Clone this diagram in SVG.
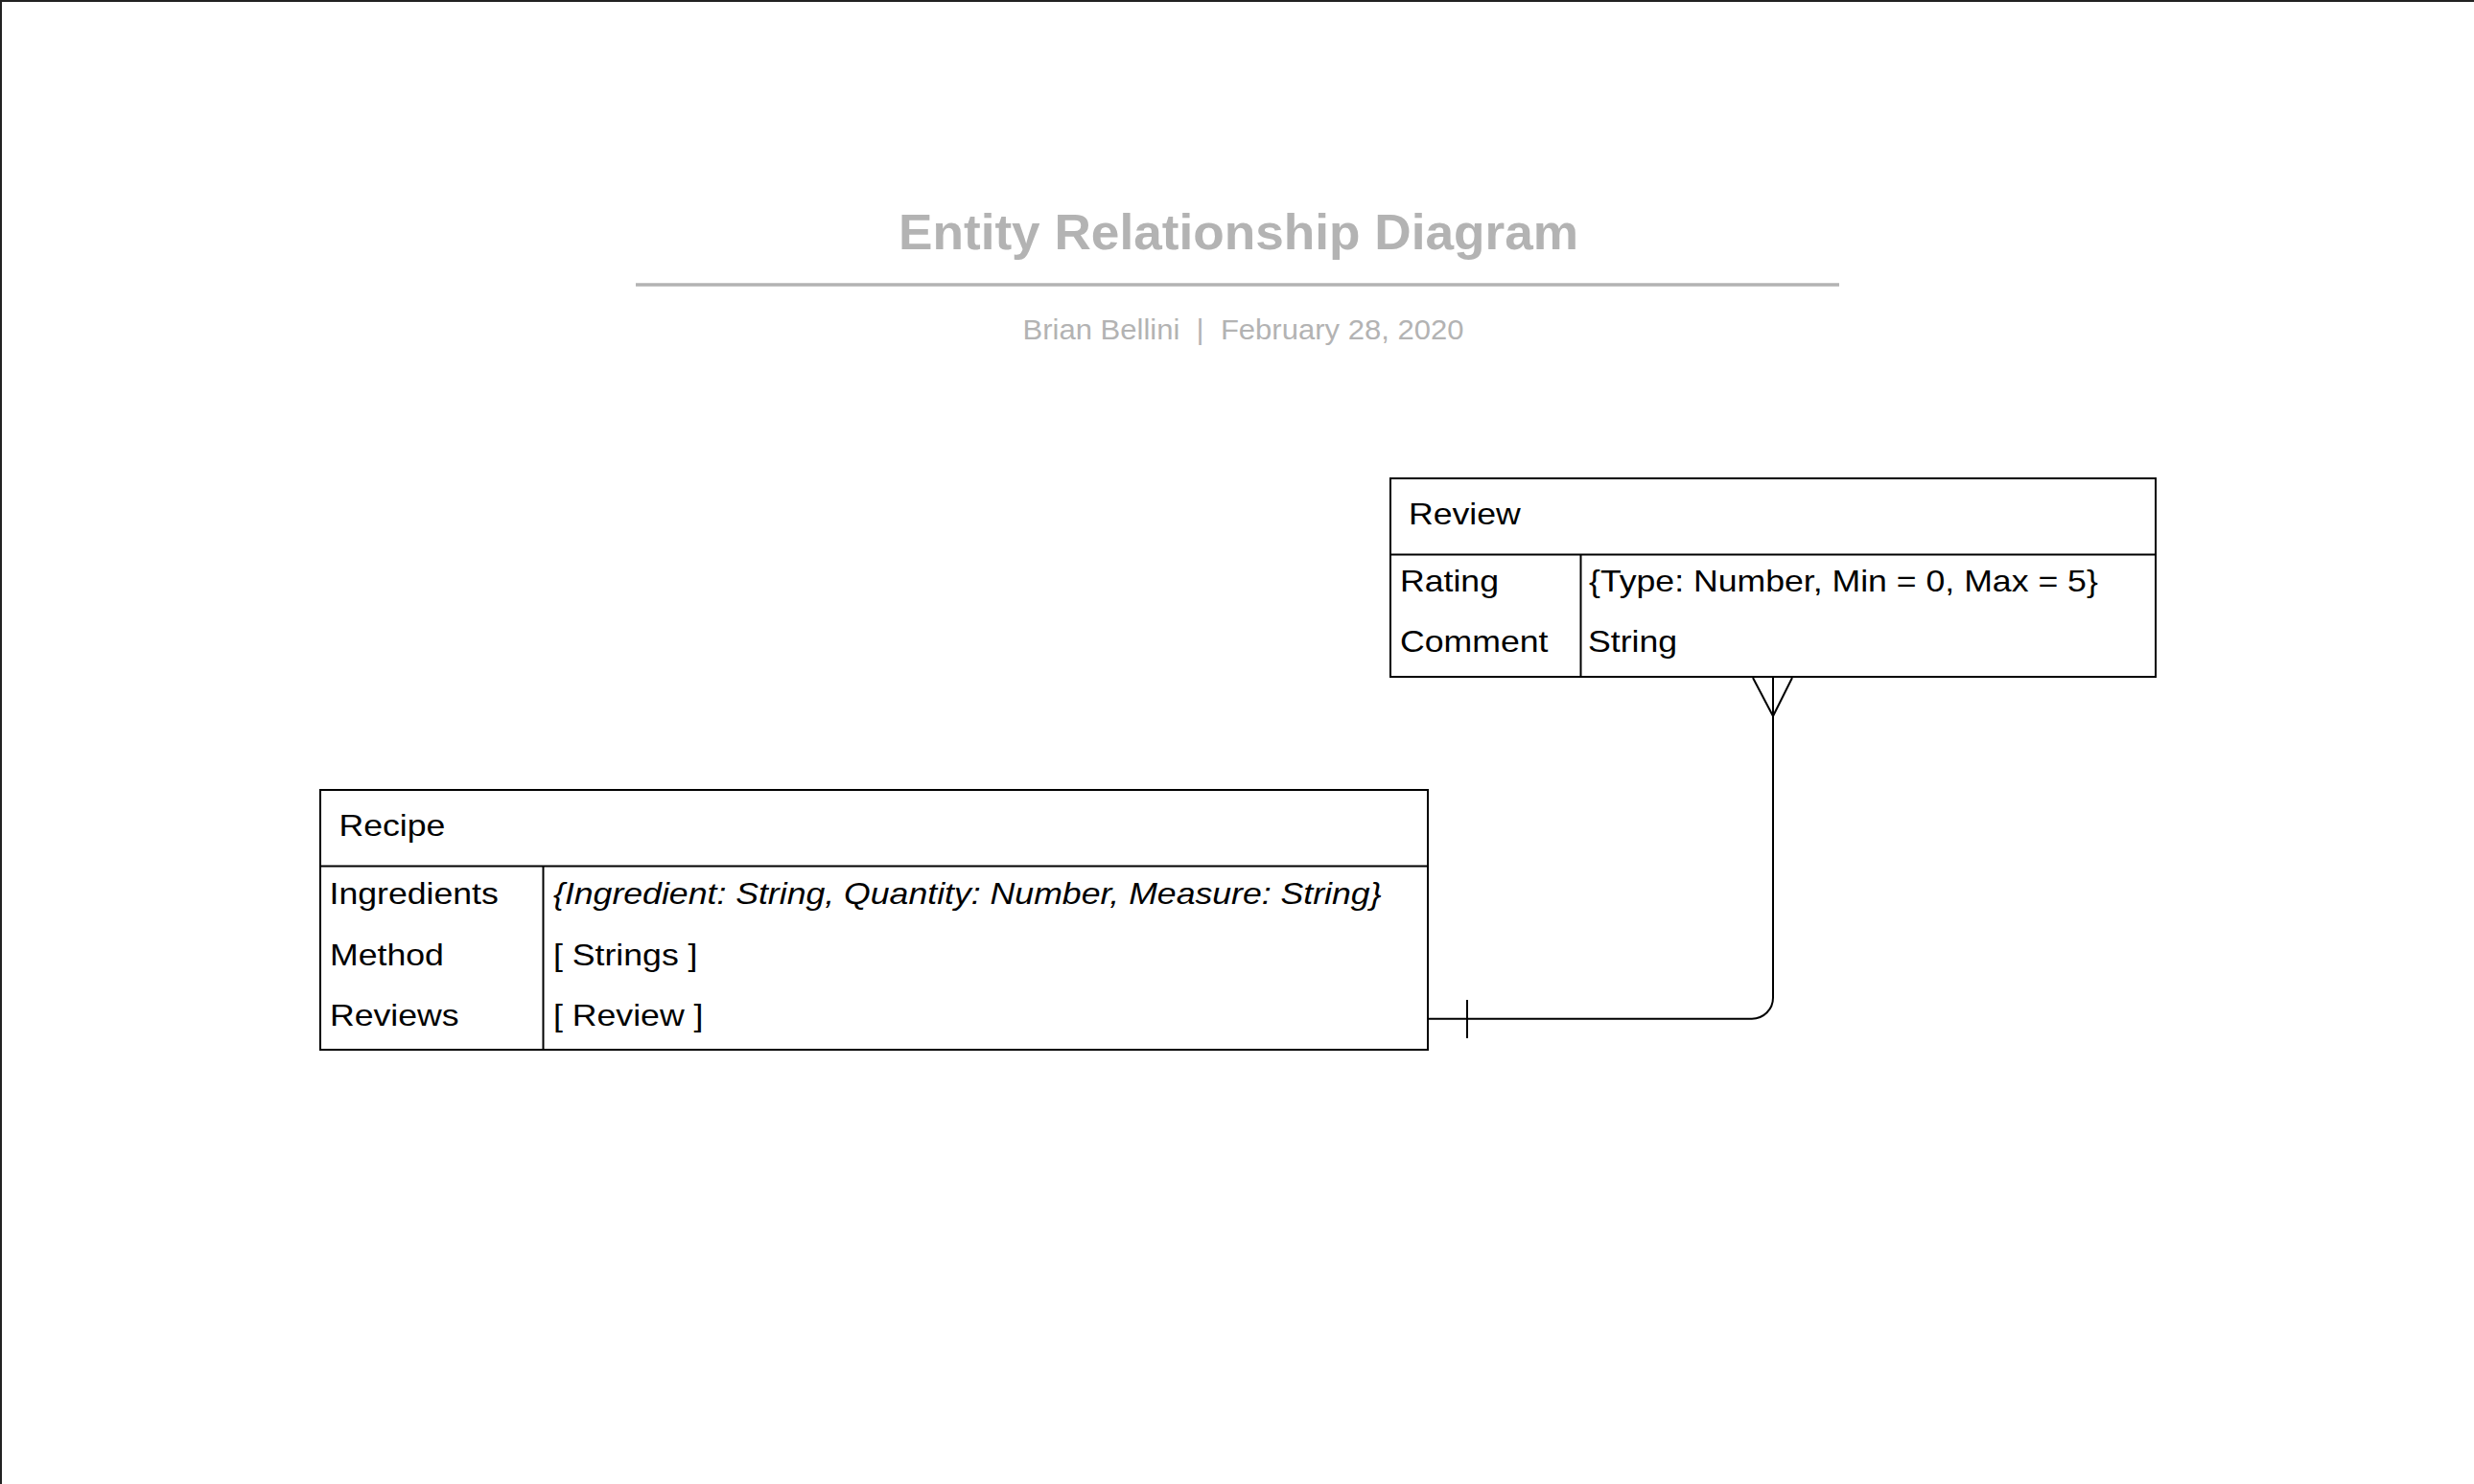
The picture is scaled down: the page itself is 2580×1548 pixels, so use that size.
<svg xmlns="http://www.w3.org/2000/svg" width="2580" height="1548" viewBox="0 0 2580 1548">
  <style>
    .box { fill: #ffffff; stroke: #000000; stroke-width: 2; }
    .div { fill: none; stroke: #000000; stroke-width: 2; }
    .t { font-family: "Liberation Sans", Arial, sans-serif; font-size: 31px; fill: #000000; }
    .it { font-style: italic; }
    .title { font-family: "Liberation Sans", Arial, sans-serif; font-size: 52px; font-weight: bold; fill: #b3b3b3; }
    .sub { font-family: "Liberation Sans", Arial, sans-serif; font-size: 29.5px; fill: #b3b3b3; }
    .conn { fill: none; stroke: #000000; stroke-width: 2; }
  </style>
  <rect x="0" y="0" width="2580" height="1548" fill="#ffffff"/>
  <path d="M1,1548 V1 H2580" fill="none" stroke="#222222" stroke-width="2"/>

  <g id="title">
    <text class="title" x="937" y="260" textLength="709" lengthAdjust="spacingAndGlyphs">Entity Relationship Diagram</text>
    <line x1="663" y1="297" x2="1918" y2="297" stroke="#b3b3b3" stroke-width="3.5"/>
    <text class="sub" x="1066.5" y="354" textLength="460" lengthAdjust="spacingAndGlyphs" xml:space="preserve">Brian Bellini  |  February 28, 2020</text>
  </g>

  <g id="review">
    <rect class="box" x="1450" y="499" width="798" height="207"/>
    <line class="div" x1="1450" y1="578.5" x2="2248" y2="578.5"/>
    <line class="div" x1="1648.5" y1="578.5" x2="1648.5" y2="706"/>
    <text class="t" transform="translate(1469 546.7) scale(1.15 1)">Review</text>
    <text class="t" transform="translate(1460 616.7) scale(1.15 1)">Rating</text>
    <text class="t" transform="translate(1460 680.3) scale(1.15 1)">Comment</text>
    <text class="t" transform="translate(1657 616.7) scale(1.15 1)">{Type: Number, Min = 0, Max = 5}</text>
    <text class="t" transform="translate(1656 680.3) scale(1.15 1)">String</text>
  </g>

  <g id="recipe">
    <rect class="box" x="334" y="824" width="1155" height="271"/>
    <line class="div" x1="334" y1="903.5" x2="1489" y2="903.5"/>
    <line class="div" x1="566.5" y1="903.5" x2="566.5" y2="1095"/>
    <text class="t" transform="translate(353.5 871.7) scale(1.15 1)">Recipe</text>
    <text class="t" transform="translate(343.5 942.7) scale(1.15 1)">Ingredients</text>
    <text class="t" transform="translate(344 1006.7) scale(1.15 1)">Method</text>
    <text class="t" transform="translate(344 1070.3) scale(1.15 1)">Reviews</text>
    <text class="t it" transform="translate(577 942.7) scale(1.15 1)">{Ingredient: String, Quantity: Number, Measure: String}</text>
    <text class="t" transform="translate(577 1006.7) scale(1.15 1)">[ Strings ]</text>
    <text class="t" transform="translate(577 1070.3) scale(1.15 1)">[ Review ]</text>
  </g>

  <g id="connectors">
    <path class="conn" d="M1489,1062.7 H1827 A22,22 0 0 0 1849,1040.7 V707"/>
    <line class="conn" x1="1530" y1="1043" x2="1530" y2="1083"/>
    <path class="conn" d="M1828,707 L1849,747 L1869,707"/>
  </g>
</svg>
